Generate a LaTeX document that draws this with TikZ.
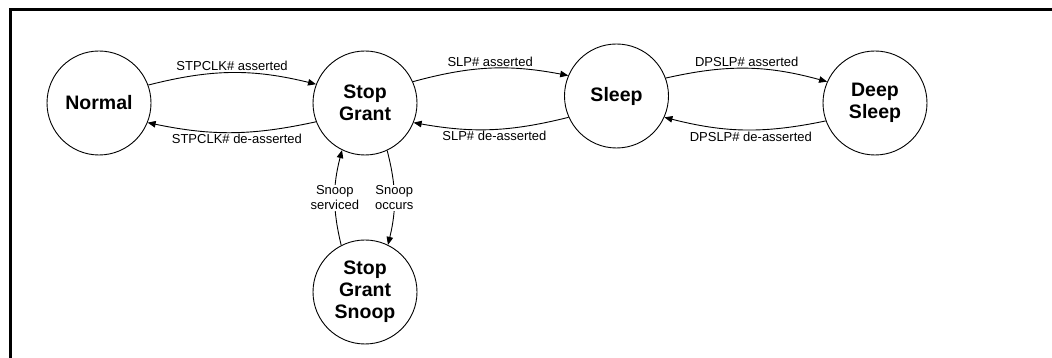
\documentclass[tikz,border=0pt]{standalone}
\usepackage{fontspec}
\setmainfont{Liberation Sans}
\usetikzlibrary{arrows.meta}
\begin{document}
\begin{tikzpicture}[x=1pt,y=1pt,
  state/.style={circle,draw,line width=0.9pt,minimum size=104pt,inner sep=0pt,align=center,font=\fontsize{19.5}{22}\selectfont\bfseries},
  trans/.style={line width=0.9pt,-{Triangle[length=8pt,width=6.5pt]}},
  lbl/.style={font=\fontsize{13}{15}\selectfont,inner sep=1.5pt,align=center},
  onl/.style={lbl,fill=white,inner sep=1pt}]
\useasboundingbox (0,0) rectangle (1052,358);
\draw[line width=2.5pt] (10.3,0) -- (10.3,348.5) -- (1052,348.5);
\node[state] (N) at (99,255) {Normal};
\node[state] (SG) at (365,255) {Stop\\Grant};
\node[state] (SL) at (616.5,262) {Sleep};
\node[state] (DS) at (875,255) {Deep\\Sleep};
\node[state] (SGS) at (365,66) {Stop\\Grant\\Snoop};
\draw[trans] (N.20) to[bend left=14] node[lbl,above] {STPCLK\# asserted} (SG.159);
\draw[trans] (SG.201) to[bend left=12] node[lbl,below,xshift=5pt] {STPCLK\# de-asserted} (N.338);
\draw[trans] (SG.24) to[bend left=13] node[lbl,above] {SLP\# asserted} (SL.157);
\draw[trans] (SL.204) to[bend left=12] node[lbl,below,xshift=3pt] {SLP\# de-asserted} (SG.338);
\draw[trans] (SL.20) to[bend left=14] node[lbl,above] {DPSLP\# asserted} (DS.156);
\draw[trans] (DS.200) to[bend left=13] node[lbl,below,xshift=6pt] {DPSLP\# de-asserted} (SL.336);
\draw[trans] (SGS.117) to[bend left=14] node[onl] {Snoop\\serviced} (SG.244);
\draw[trans] (SG.295) to[bend left=14] node[onl] {Snoop\\occurs} (SGS.64);
\end{tikzpicture}
\end{document}
